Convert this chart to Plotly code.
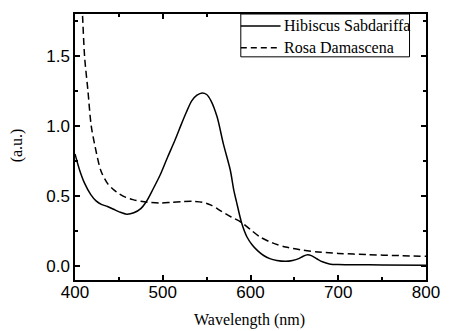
import plotly.graph_objects as go

# Absorption spectra (wavelength in nm, absorbance in a.u.)
hibiscus_wl = [400, 405, 411, 418, 424, 430, 437, 444, 451, 459, 467, 475, 481, 489, 497,
               505, 514, 521, 527, 533, 539, 545, 550, 555, 562, 569, 577, 581, 584, 590,
               596, 602, 608, 615, 622, 630, 640, 648, 655, 660, 665, 670, 676, 682, 690,
               700, 750, 800]
hibiscus_abs = [0.80, 0.69, 0.59, 0.51, 0.465, 0.44, 0.425, 0.405, 0.385, 0.37, 0.38, 0.41,
                0.457, 0.55, 0.65, 0.77, 0.90, 1.01, 1.10, 1.18, 1.22, 1.236, 1.225, 1.18,
                1.064, 0.874, 0.684, 0.54, 0.46, 0.305, 0.207, 0.15, 0.11, 0.075, 0.053,
                0.04, 0.034, 0.04, 0.053, 0.07, 0.08, 0.072, 0.05, 0.03, 0.015, 0.01, 0.008,
                0.006]

rosa_wl = [406, 408.5, 411, 414.7, 418.4, 423, 429.5, 437, 445, 450, 458, 466, 475, 483,
           497, 510, 522, 534, 545, 555, 567, 578, 589, 600, 611, 625, 640, 660, 677, 700,
           733, 770, 800]
rosa_abs = [2.1, 1.8, 1.49, 1.255, 1.005, 0.85, 0.68, 0.59, 0.54, 0.517, 0.49, 0.474, 0.462,
            0.455, 0.45, 0.455, 0.46, 0.462, 0.455, 0.435, 0.39, 0.35, 0.314, 0.26, 0.207,
            0.165, 0.136, 0.113, 0.1, 0.09, 0.081, 0.074, 0.069]

series_names = ["Hibiscus Sabdariffa", "Rosa Damascena"]
series_dash = ["solid", "7px,4px"]

serif = "Liberation Serif"
sans = "Liberation Sans"

W, H = 452, 331
M_L, M_R, M_T, M_B = 75, 15, 13, 51
plot_w = W - M_L - M_R
plot_h = H - M_T - M_B


def px_x(px):
    """Pixel column -> paper x."""
    return (px - M_L) / plot_w


def px_y(py):
    """Pixel row -> paper y."""
    return (H - M_B - py) / plot_h


fig = go.Figure()
for name, xs, ys, dash in zip(series_names, [hibiscus_wl, rosa_wl],
                              [hibiscus_abs, rosa_abs], series_dash):
    fig.add_trace(go.Scatter(x=xs, y=ys, mode="lines", name=name, showlegend=False,
                             line=dict(color="black", width=1.5, dash=dash,
                                       shape="spline", smoothing=0.8)))

axis_common = dict(
    showline=True, linecolor="black", linewidth=1.5, mirror="ticks",
    ticks="inside", ticklen=5, tickwidth=1.5, tickcolor="black",
    showgrid=False, zeroline=False,
    tickfont=dict(family=sans, size=17, color="black"),
)

fig.update_xaxes(range=[400, 800], dtick=100, tick0=400, ticklabelstandoff=-4,
                 minor=dict(dtick=50, ticks="inside", ticklen=3, tickwidth=1.5,
                            tickcolor="black", showgrid=False),
                 **axis_common)
fig.update_yaxes(range=[-0.1, 1.8], dtick=0.5, tick0=0, tickformat=".1f",
                 minor=dict(dtick=0.25, ticks="inside", ticklen=3, tickwidth=1.5,
                            tickcolor="black", showgrid=False),
                 **axis_common)

# Legend box with line samples, anchored in the top-right corner of the plot
box_x0, box_x1, box_y0, box_y1 = 246, 420, 13, 56
rows_y = [25, 47]
shapes = [dict(type="rect", xref="paper", yref="paper",
               x0=px_x(box_x0), x1=px_x(box_x1), y0=px_y(box_y1), y1=px_y(box_y0),
               line=dict(color="black", width=1), fillcolor="white", layer="above")]
annotations = []
for name, dash, ry in zip(series_names, ["solid", "6px,4px"], rows_y):
    shapes.append(dict(type="line", xref="paper", yref="paper",
                       x0=px_x(box_x0), x1=px_x(287), y0=px_y(ry), y1=px_y(ry),
                       line=dict(color="black", width=1.5, dash=dash), layer="above"))
    annotations.append(dict(text=name, xref="paper", yref="paper",
                            x=px_x(289), y=px_y(ry), xanchor="left", yanchor="middle",
                            showarrow=False,
                            font=dict(family=serif, size=16, color="black")))

annotations += [
    dict(text="Wavelength (nm)", xref="paper", yref="paper",
         x=px_x(255), y=px_y(320), showarrow=False,
         font=dict(family=serif, size=16, color="black"),
         xanchor="center", yanchor="middle"),
    dict(text="(a.u.)", xref="paper", yref="paper",
         x=px_x(15), y=px_y(145), showarrow=False, textangle=-90,
         xanchor="center", yanchor="middle",
         font=dict(family=serif, size=16, color="black")),
]

fig.update_layout(
    width=W, height=H,
    margin=dict(l=M_L, r=M_R, t=M_T, b=M_B),
    paper_bgcolor="white", plot_bgcolor="white",
    font=dict(family=serif, size=16, color="black"),
    showlegend=False,
    shapes=shapes,
    annotations=annotations,
)

fig.write_html("out.html")
